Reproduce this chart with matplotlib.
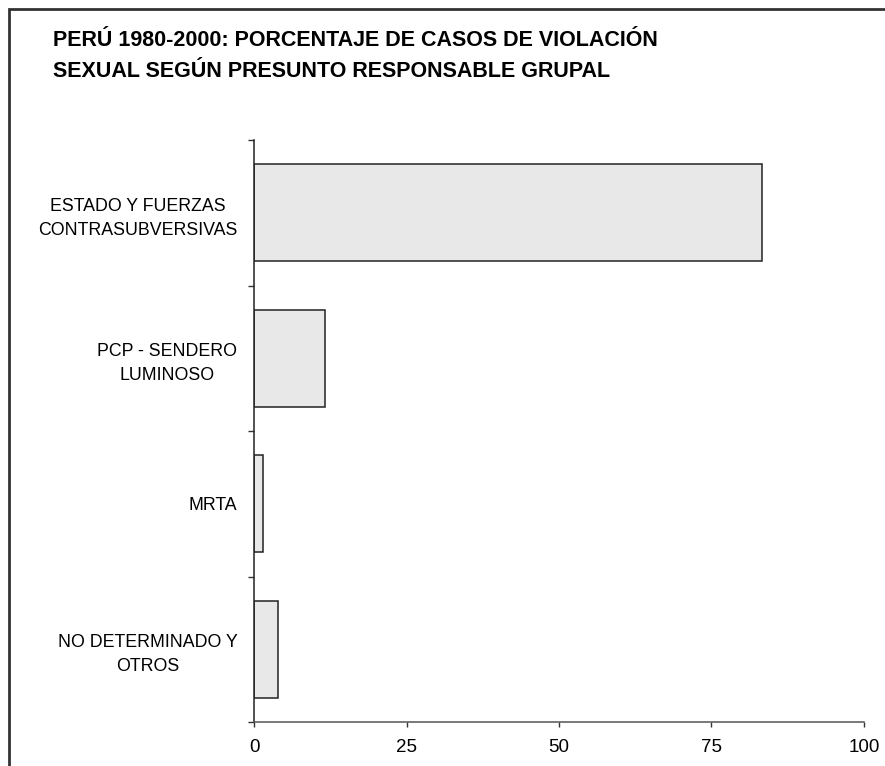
import numpy as np
import matplotlib
matplotlib.use('Agg')
import matplotlib.pyplot as plt
from matplotlib.lines import Line2D

plt.rcParams['font.family'] = ['Liberation Sans', 'DejaVu Sans']

categorias = ['ESTADO Y FUERZAS\nCONTRASUBVERSIVAS',
              'PCP - SENDERO\nLUMINOSO',
              'MRTA',
              'NO DETERMINADO Y\nOTROS']
porcentajes = [83.2, 11.6, 1.5, 4.0]
xticks = [0, 25, 50, 75, 100]
titulo = 'PERÚ 1980-2000: PORCENTAJE DE CASOS DE VIOLACIÓN\nSEXUAL SEGÚN PRESUNTO RESPONSABLE GRUPAL'

W, H = 885, 766
fig = plt.figure(figsize=(W / 100, H / 100), dpi=100)
ax = fig.add_axes([254 / W, 1 - 722 / H, (864 - 254) / W, (722 - 140) / H])

pos = np.arange(len(categorias))
ax.barh(pos, porcentajes, height=0.667, color='#e8e8e8', edgecolor='#222222', linewidth=1.1)

ax.set_xlim(0, 100)
ax.set_ylim(len(categorias) - 0.5, -0.5)
ax.set_xticks(xticks)
ax.set_xticklabels([str(v) for v in xticks], fontsize=13.5)
ax.tick_params(axis='x', direction='out', length=3.5, width=1, color='#333333', pad=9)

# bordes de categoria como ticks mayores, etiquetas como menores
ax.set_yticks(np.arange(-0.5, len(categorias), 1.0))
ax.set_yticklabels([])
ax.tick_params(axis='y', which='major', direction='out', length=4, width=1, color='#333333')
ax.set_yticks(pos, minor=True)
ax.set_yticklabels(categorias, minor=True, fontsize=12.8)
ax.tick_params(axis='y', which='minor', length=0, pad=12)
for t in ax.get_yticklabels(minor=True):
    t.set_multialignment('center')
    t.set_linespacing(1.55)

for s in ['top', 'right']:
    ax.spines[s].set_visible(False)
ax.spines['left'].set_color('#222222')
ax.spines['bottom'].set_color('#555555')
ax.spines['left'].set_linewidth(1.1)
ax.spines['bottom'].set_linewidth(1.1)

fig.text(53 / W, 1 - 30 / H, titulo, fontsize=15.5, fontweight='bold',
         va='top', ha='left', linespacing=1.62)

# marco exterior (solo izquierda y arriba visibles)
x0, y0 = 9 / W, 1 - 9 / H
fig.add_artist(Line2D([x0, x0, 1.0], [0.0, y0, y0], transform=fig.transFigure,
                      color='#333333', linewidth=2, solid_joinstyle='miter'))

fig.savefig('out.png', dpi=100)
